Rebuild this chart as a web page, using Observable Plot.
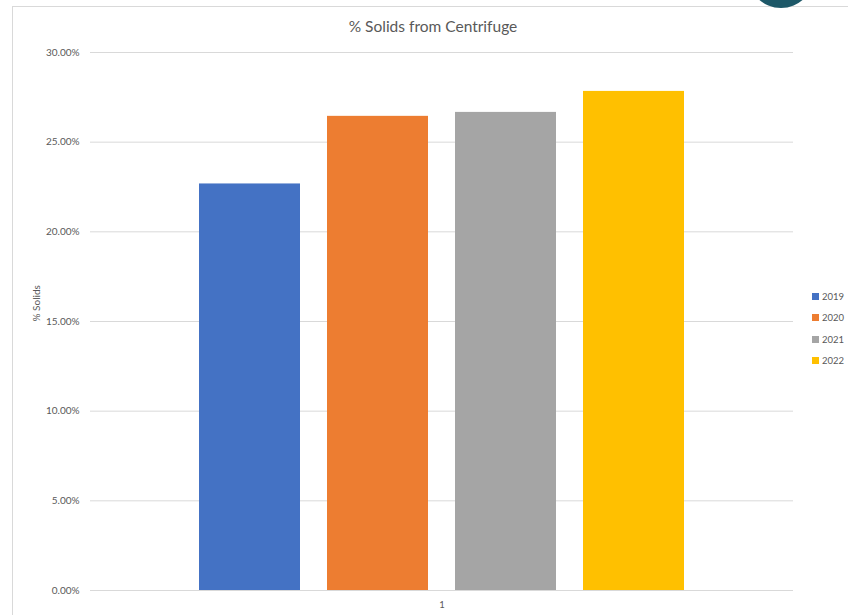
<!DOCTYPE html>
<html>
<head>
<meta charset="utf-8">
<script src="https://cdn.jsdelivr.net/npm/d3@7"></script>
<script src="https://cdn.jsdelivr.net/npm/@observablehq/plot@0.6"></script>
<style>
  html, body { margin: 0; padding: 0; background: #fff; }
  #wrap { position: relative; width: 848px; height: 615px; overflow: hidden; font-family: Lato, "Open Sans", sans-serif; }
  #wrap svg { position: absolute; left: 0; top: 0; }
  .frame-top { position: absolute; left: 12px; top: 6px; right: 0; height: 1px; background: #d9d9d9; }
  .frame-left { position: absolute; left: 12px; top: 6px; bottom: 0; width: 1px; background: #d9d9d9; }
  .blob { position: absolute; left: 748px; top: -58px; width: 66px; height: 66px; border-radius: 50%; background: #1d5868; }
  #legend { position: absolute; left: 812px; top: 286px; font-size: 9.5px; color: #595959; }
  #legend .row { height: 21.3px; display: flex; align-items: center; }
  #legend .sw { width: 7px; height: 7px; margin-right: 3px; }
</style>
</head>
<body>
<div id="wrap">
  <div class="frame-top"></div>
  <div class="frame-left"></div>
  <div class="blob"></div>
  <div id="legend"></div>
</div>
<script>
const title = "% Solids from Centrifuge";
const yLabel = "% Solids";
const category = "1";
const years = ["2019", "2020", "2021", "2022"];
const solids = [0.2267, 0.2644, 0.2666, 0.2783];
const colors = ["#4472C4", "#ED7D31", "#A5A5A5", "#FFC000"];
const yTicks = [0, 0.05, 0.10, 0.15, 0.20, 0.25, 0.30];

const data = years.map((y, i) => ({year: y, value: solids[i]}));
const fmt = d3.format(".2%");

const chart = Plot.plot({
  width: 848,
  height: 615,
  marginLeft: 90,
  marginRight: 55,
  marginTop: 52,
  marginBottom: 25,
  style: {fontFamily: "Lato, 'Open Sans', sans-serif", background: "transparent", overflow: "visible"},
  x: {domain: years, paddingInner: 0.21, paddingOuter: 0.85, axis: null},
  y: {domain: [0, 0.30], axis: null},
  color: {domain: years, range: colors},
  marks: [
    Plot.gridY(yTicks, {stroke: "#d9d9d9", strokeOpacity: 1, strokeWidth: 1}),
    Plot.barY(data, {x: "year", y: "value", fill: "year"}),
    Plot.axisY(yTicks, {tickSize: 0, tickPadding: 11, tickFormat: fmt, fontSize: 10, fill: "#595959", label: null}),
    Plot.text([title], {frameAnchor: "top", lineAnchor: "middle", dy: -25, dx: -9, fontSize: 15.5, fill: "#595959"}),
    Plot.text([yLabel], {frameAnchor: "left", rotate: -90, dx: -54, fontSize: 10, fill: "#595959"}),
    Plot.text([category], {frameAnchor: "bottom", lineAnchor: "middle", dy: 14, fontSize: 9.5, fill: "#595959"})
  ]
});
const wrap = document.getElementById("wrap");
wrap.insertBefore(chart, wrap.firstChild);

const legend = document.getElementById("legend");
years.forEach((y, i) => {
  const row = document.createElement("div");
  row.className = "row";
  const sw = document.createElement("span");
  sw.className = "sw";
  sw.style.background = colors[i];
  const t = document.createElement("span");
  t.textContent = y;
  row.appendChild(sw);
  row.appendChild(t);
  legend.appendChild(row);
});
</script>
</body>
</html>
